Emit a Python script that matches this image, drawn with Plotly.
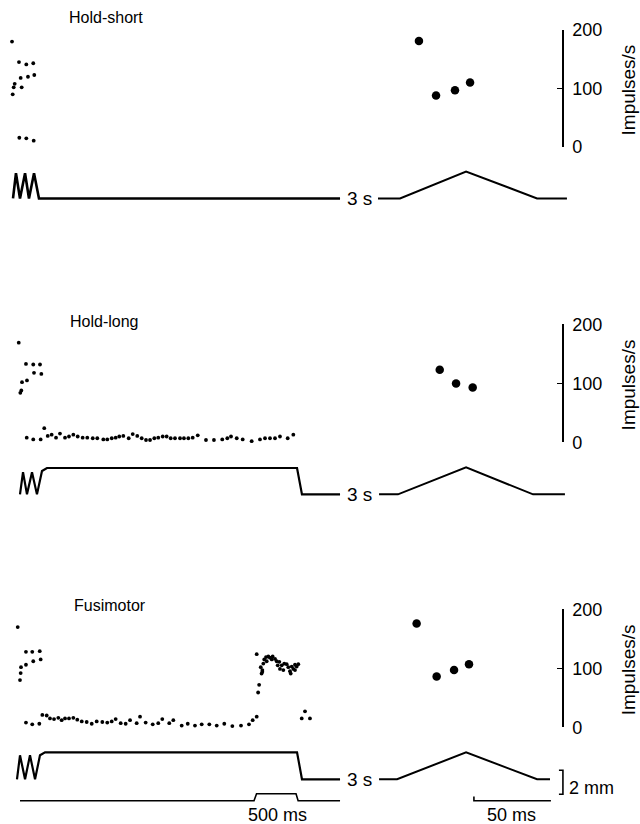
import plotly.graph_objects as go

W, H = 640, 824
FONT = "Liberation Sans, Arial, sans-serif"

# empirical correction for the vertical placement seen in the photographed page
Y_SCALE, Y_OFF = 0.976, 9.5


def fx(p):
    return p / W


def fy(p):
    return 1 - ((p - Y_OFF) / Y_SCALE) / H


# ---------------- data ----------------
# Left part: time in ms from vibration onset; instantaneous rate in impulses/s
p1_left_ms = [24, 32, 44, 56, 107, 111, 127, 139, 194, 194, 214, 277, 282, 289]
p1_left_imp = [180, 90, 102, 108, 145, 16, 118, 102, 141, 15, 120, 143, 11, 123]

p2_left_ms = [104, 123, 135, 143, 190, 202, 277, 286, 357, 373,
              199, 277, 365, 408, 449, 496, 548, 595, 655, 702, 754, 806, 865, 920, 985, 1039,
              1111, 1158, 1211, 1258, 1301, 1349, 1413, 1461, 1515, 1568, 1619, 1667, 1718, 1765,
              1818, 1865, 1913, 1964, 2024, 2071, 2123, 2175, 2235, 2333, 2428, 2527, 2587, 2631,
              2699, 2770, 2877, 2976, 3036, 3095, 3155, 3214, 3306, 3373]
p2_left_imp = [169, 84, 88, 102, 133, 105, 132, 118, 132, 116,
               8, 5, 5, 24, 11, 13, 8, 15, 8, 10, 13, 10, 8, 8, 7, 7,
               5, 5, 7, 8, 10, 11, 7, 14, 11, 7, 4, 4, 7, 8,
               10, 10, 7, 7, 7, 7, 7, 8, 12, 4, 4, 5, 7, 10,
               7, 5, 2, 5, 7, 7, 7, 10, 7, 13]

p3_left_ms = [92, 119, 127, 131, 190, 190, 265, 277, 354, 365,
              190, 265, 349, 385, 437, 476, 524, 575, 615, 655, 702, 754, 801, 854, 913, 973,
              1032, 1099, 1158, 1211, 1258, 1318, 1377, 1429, 1508, 1548, 1615, 1699, 1765, 1813,
              1896, 1944, 2044, 2116, 2202, 2282, 2373, 2461, 2551, 2647, 2750, 2845, 2889, 2937,
              2954, 2966, 2995, 3004, 2937,
              2985, 3016, 3027, 3048, 3075, 3095, 3116, 3127, 3155, 3175, 3187, 3206, 3235, 3254,
              3265, 3294, 3313, 3333, 3354, 3373, 3393, 3413, 3432, 3342, 3004, 3056, 3214, 3393,
              3473, 3512, 3571]
p3_left_imp = [170, 80, 92, 102, 128, 106, 128, 112, 129, 115,
               8, 5, 6, 21, 20, 15, 14, 16, 12, 15, 15, 16, 13, 10, 9, 6,
               10, 9, 8, 10, 14, 7, 6, 12, 7, 18, 8, 5, 7, 14,
               7, 12, 3, 6, 3, 5, 5, 3, 6, 2, 3, 5, 12, 18,
               59, 72, 91, 97, 124,
               102, 108, 115, 119, 120, 118, 115, 120, 116, 112, 105, 111, 105, 97,
               108, 107, 102, 95, 103, 99, 106, 103, 107, 91, 94, 112, 99, 97,
               15, 27, 15]

# Right part: time in ms from ramp onset
p1_right_ms = [12.3, 23.4, 35.7, 45.5]
p1_right_imp = [181, 88, 97, 110]
p2_right_ms = [25.8, 36.4, 47.2]
p2_right_imp = [123, 100, 93]
p3_right_ms = [10.8, 23.8, 35.1, 44.8]
p3_right_imp = [176, 86, 97, 107]

# Stimulus (muscle length, mm) - left part (vibration + hold)
p1_stim_ms = [36, 71, 119, 179, 226, 286, 345, 3929]
p1_stim_mm = [0, 2.1, 0, 2.1, 0, 2.1, 0, 0]
p2_stim_ms = [119, 155, 202, 262, 321, 381, 440, 3417, 3476, 3929]
p2_stim_mm = [0, 1.85, 0, 1.85, 0, 1.95, 2.2, 2.2, 0, 0]
p3_stim_ms = [83, 119, 179, 238, 298, 357, 417, 3417, 3476, 3929]
p3_stim_mm = [0, 2.0, 0, 2.0, 0, 2.0, 2.25, 2.25, 0, 0]

# Stimulus - right part (stretch ramp)
p1_ramp_ms = [-14.3, 0, 42.9, 89.0, 108.4]
p2_ramp_ms = [-13.6, -1.3, 42.9, 86.4, 107.1]
p3_ramp_ms = [-13.6, -1.9, 42.9, 89.0, 97.4]
ramp_mm = [0, 0, 2.25, 0, 0]

# Fusimotor stimulation marker (bottom trace)
marker_ms = [119, 2905, 2935, 3405, 3430, 3929]
marker_on = [0, 0, 1, 1, 0, 0]

# Scale bars
bar50_ms = [48, 48, 98]
bar50_lvl = [0.6, 0, 0]
bar2mm_ms = [103.2, 105.8, 105.8, 103.2]
bar2mm_mm = [0.75, 0.75, -1.25, -1.25]

imp_ticks = [0, 100, 200]

# ---------------- layout geometry (target pixels) ----------------
LEFT_X = (10, 346)
RIGHT_X = (372, 575)
IMP_Y = [(29.3, 146.7), (324, 442), (609, 727)]
STIM_BASE = [198, 494, 779]
MM_PX = 12.0
AXIS_X = 562

fig = go.Figure()

dot = dict(color="black", size=3.8)
big = dict(color="black", size=8.5)
ln = dict(color="black", width=2)

lefts = [(p1_left_ms, p1_left_imp), (p2_left_ms, p2_left_imp), (p3_left_ms, p3_left_imp)]
rights = [(p1_right_ms, p1_right_imp), (p2_right_ms, p2_right_imp), (p3_right_ms, p3_right_imp)]
stims = [(p1_stim_ms, p1_stim_mm), (p2_stim_ms, p2_stim_mm), (p3_stim_ms, p3_stim_mm)]
ramps = [p1_ramp_ms, p2_ramp_ms, p3_ramp_ms]

for i in range(3):
    yi = "y" if i == 0 else f"y{i + 1}"
    ys = f"y{i + 4}"
    fig.add_trace(go.Scatter(x=lefts[i][0], y=lefts[i][1], mode="markers", marker=dot,
                             xaxis="x", yaxis=yi, cliponaxis=False, showlegend=False))
    fig.add_trace(go.Scatter(x=rights[i][0], y=rights[i][1], mode="markers", marker=big,
                             xaxis="x2", yaxis=yi, cliponaxis=False, showlegend=False))
    fig.add_trace(go.Scatter(x=stims[i][0], y=stims[i][1], mode="lines",
                             line=dict(color="black", width=2.6 if i == 0 else 2.2),
                             xaxis="x", yaxis=ys, showlegend=False))
    fig.add_trace(go.Scatter(x=ramps[i], y=ramp_mm, mode="lines", line=ln,
                             xaxis="x2", yaxis=ys, showlegend=False))

fig.add_trace(go.Scatter(x=marker_ms, y=marker_on, mode="lines", line=dict(color="black", width=1.6),
                         xaxis="x", yaxis="y7", showlegend=False))
fig.add_trace(go.Scatter(x=bar50_ms, y=bar50_lvl, mode="lines", line=dict(color="black", width=1.6),
                         xaxis="x2", yaxis="y7", showlegend=False))
fig.add_trace(go.Scatter(x=bar2mm_ms, y=bar2mm_mm, mode="lines", line=dict(color="black", width=1.6),
                         xaxis="x2", yaxis="y6", showlegend=False))

layout = dict(
    width=W, height=H, margin=dict(l=0, r=0, t=0, b=0),
    paper_bgcolor="white", plot_bgcolor="rgba(0,0,0,0)",
    font=dict(family=FONT, color="black", size=17),
    hovermode=False,
    xaxis=dict(domain=[fx(LEFT_X[0]), fx(LEFT_X[1])], range=[0, 4000], visible=False, anchor="free", position=0),
    xaxis2=dict(domain=[fx(RIGHT_X[0]), fx(RIGHT_X[1])],
                range=[(RIGHT_X[0] - 400) / 1.54, (RIGHT_X[1] - 400) / 1.54],
                visible=False, anchor="free", position=0),
)

for i in range(3):
    top, bot = IMP_Y[i]
    key = "yaxis" if i == 0 else f"yaxis{i + 1}"
    layout[key] = dict(
        domain=[fy(bot), fy(top)], range=[0, 200], anchor="free", position=fx(AXIS_X),
        side="right", showline=True, linecolor="black", linewidth=1.6,
        ticks="inside", ticklen=5, tickwidth=1.6, tickcolor="black",
        tickvals=imp_ticks, ticktext=[str(t) for t in imp_ticks],
        tickfont=dict(size=18, family=FONT), ticklabelstandoff=5,
        showgrid=False, zeroline=False,
    )
    b = STIM_BASE[i]
    ptop, pbot = b - 40, b + 22
    layout[f"yaxis{i + 4}"] = dict(
        domain=[fy(pbot), fy(ptop)],
        range=[-(pbot - b) / MM_PX, (b - ptop) / MM_PX],
        visible=False, anchor="free", position=0,
    )

layout["yaxis7"] = dict(domain=[fy(804), fy(790)], range=[-0.5, 1.5], visible=False,
                        anchor="free", position=0)

ann = []
titles = [("Hold-short", 67, 17), ("Hold-long", 68, 321), ("Fusimotor", 72, 605)]
for t, x, y in titles:
    ann.append(dict(text=t, x=fx(x), y=fy(y), xref="paper", yref="paper",
                    xanchor="left", yanchor="middle", showarrow=False, font=dict(size=16)))
for i in range(3):
    ann.append(dict(text="3 s", x=fx(359), y=fy(STIM_BASE[i]), xref="paper", yref="paper",
                    xanchor="center", yanchor="middle", showarrow=False, font=dict(size=19)))
    top, bot = IMP_Y[i]
    ann.append(dict(text="Impulses/s", x=fx(628), y=fy((top + bot) / 2 + 2), xref="paper", yref="paper",
                    xanchor="center", yanchor="middle", textangle=-90, showarrow=False,
                    font=dict(size=19)))
ann.append(dict(text="500 ms", x=3190, y=fy(815), xref="x", yref="paper", xanchor="center",
                yanchor="middle", showarrow=False, font=dict(size=18)))
ann.append(dict(text="50 ms", x=72.7, y=fy(815), xref="x2", yref="paper", xanchor="center",
                yanchor="middle", showarrow=False, font=dict(size=18)))
ann.append(dict(text="2 mm", x=fx(567), y=fy(788), xref="paper", yref="paper", xanchor="left",
                yanchor="middle", showarrow=False, font=dict(size=18)))
layout["annotations"] = ann

fig.update_layout(**layout)
fig.write_html(
    "out.html",
    config={"displayModeBar": False, "staticPlot": True},
    post_script=(
        "document.documentElement.style.margin='0';document.body.style.margin='0';"
        "document.documentElement.style.overflow='hidden';document.body.style.overflow='hidden';"
        "var gd=document.getElementById('{plot_id}');"
        "gd.style.position='fixed';gd.style.left='0px';gd.style.top='0px';"
    ),
)
